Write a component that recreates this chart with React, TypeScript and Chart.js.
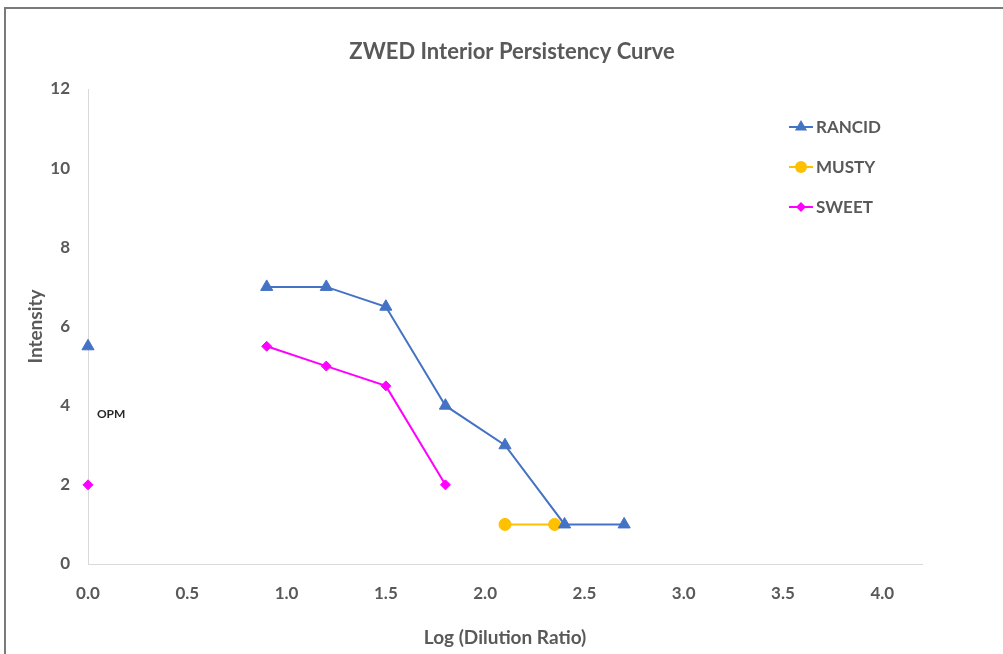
import React, { useEffect, useRef } from "react";
import { Chart, registerables } from "chart.js";

Chart.register(...registerables);

const TITLE = "ZWED Interior Persistency Curve";
const X_TITLE = "Log (Dilution Ratio)";
const Y_TITLE = "Intensity";
const NOTE_TEXT = "OPM";
const NOTE_POS = { x: 0.05, y: 3.78 };

const seriesNames = ["RANCID", "MUSTY", "SWEET"];
const seriesColors = ["#4472C4", "#FFC000", "#FF00FF"];
const seriesMarkers = ["triangle", "circle", "rectRot"];

// null y creates a gap between the isolated value at 0.0 and the curve
const rancidX = [0.0, 0.45, 0.9, 1.2, 1.5, 1.8, 2.1, 2.4, 2.7];
const rancidY = [5.5, null, 7, 7, 6.5, 4, 3, 1, 1];
const mustyX = [2.1, 2.35];
const mustyY = [1, 1];
const sweetX = [0.0, 0.45, 0.9, 1.2, 1.5, 1.8];
const sweetY = [2, null, 5.5, 5, 4.5, 2];

const xTicks = [0, 0.5, 1.0, 1.5, 2.0, 2.5, 3.0, 3.5, 4.0];
const yTicks = [0, 2, 4, 6, 8, 10, 12];

const FONT = "Lato, 'Open Sans', sans-serif";
const TEXT_COLOR = "#595959";

const toPoints = (xs: number[], ys: (number | null)[]) =>
  xs.map((x, i) => ({ x, y: ys[i] }));

function drawMarker(ctx: CanvasRenderingContext2D, style: string, x: number, y: number, r: number) {
  ctx.beginPath();
  if (style === "triangle") {
    ctx.moveTo(x, y - r);
    ctx.lineTo(x + r * 0.87, y + r * 0.5);
    ctx.lineTo(x - r * 0.87, y + r * 0.5);
    ctx.closePath();
  } else if (style === "circle") {
    ctx.arc(x, y, r, 0, Math.PI * 2);
  } else {
    ctx.moveTo(x, y - r);
    ctx.lineTo(x + r, y);
    ctx.lineTo(x, y + r);
    ctx.lineTo(x - r, y);
    ctx.closePath();
  }
  ctx.fill();
}

const decorPlugin = {
  id: "decor",
  afterDraw(chart: any) {
    const ctx = chart.ctx;
    ctx.save();
    // title
    ctx.fillStyle = TEXT_COLOR;
    ctx.font = `bold 22px ${FONT}`;
    ctx.textAlign = "center";
    ctx.textBaseline = "middle";
    ctx.fillText(TITLE, 512, 52);
    // legend
    chart.data.datasets.forEach((ds: any, i: number) => {
      const y = 127 + i * 40;
      const x0 = 789;
      const x1 = 813;
      ctx.strokeStyle = ds.borderColor;
      ctx.lineWidth = 2;
      ctx.beginPath();
      ctx.moveTo(x0, y);
      ctx.lineTo(x1, y);
      ctx.stroke();
      ctx.fillStyle = ds.borderColor;
      drawMarker(ctx, ds.pointStyle, (x0 + x1) / 2, y, ds.pointRadius);
      ctx.fillStyle = TEXT_COLOR;
      ctx.font = `bold 17px ${FONT}`;
      ctx.textBaseline = "middle";
      ctx.textAlign = "left";
      ctx.fillText(ds.label, 816, y + 1);
    });
    // note label
    const xs = chart.scales.x;
    const ys = chart.scales.y;
    ctx.fillStyle = "#262626";
    ctx.font = `bold 12px ${FONT}`;
    ctx.textBaseline = "middle";
    ctx.textAlign = "left";
    ctx.fillText(NOTE_TEXT, xs.getPixelForValue(NOTE_POS.x) - 1, ys.getPixelForValue(NOTE_POS.y));
    ctx.restore();
  },
};

export default function App() {
  const ref = useRef<HTMLCanvasElement>(null);

  useEffect(() => {
    const ys = [rancidY, mustyY, sweetY];
    const xsArr = [rancidX, mustyX, sweetX];
    const radii = [7, 6, 5];
    const chart = new Chart(ref.current!, {
      type: "line",
      data: {
        datasets: seriesNames.map((name, i) => ({
          label: name,
          data: toPoints(xsArr[i], ys[i]) as any,
          borderColor: seriesColors[i],
          backgroundColor: seriesColors[i],
          pointStyle: seriesMarkers[i] as any,
          pointRadius: radii[i],
          pointBorderWidth: 1,
          borderWidth: 2,
          spanGaps: false,
          tension: 0,
          clip: false as any,
        })),
      },
      options: {
        animation: false,
        responsive: false,
        layout: { padding: { left: 0, right: 81, top: 89, bottom: 0 } },
        plugins: {
          legend: { display: false },
          tooltip: { enabled: false },
          title: { display: false },
        },
        scales: {
          x: {
            type: "linear",
            min: 0,
            max: 4.2,
            grid: { display: false, drawTicks: false },
            border: { display: true, color: "#D9D9D9", width: 1 },
            afterBuildTicks: (s: any) => {
              s.ticks = xTicks.map((v) => ({ value: v }));
            },
            afterFit: (s: any) => {
              s.height = 90;
            },
            ticks: {
              color: TEXT_COLOR,
              font: { family: FONT, size: 17, weight: "bold" },
              padding: 19,
              maxRotation: 0,
              callback: (v: any) => Number(v).toFixed(1),
            },
            title: {
              display: true,
              text: X_TITLE,
              color: TEXT_COLOR,
              font: { family: FONT, size: 19, weight: "bold" },
              padding: { top: 0, bottom: 5 },
            },
          },
          y: {
            type: "linear",
            min: 0,
            max: 12,
            grid: { display: false, drawTicks: false },
            border: { display: true, color: "#D9D9D9", width: 1 },
            afterBuildTicks: (s: any) => {
              s.ticks = yTicks.map((v) => ({ value: v }));
            },
            afterFit: (s: any) => {
              s.width = 88;
            },
            ticks: {
              color: TEXT_COLOR,
              font: { family: FONT, size: 17, weight: "bold" },
              padding: 18,
            },
            title: {
              display: true,
              text: Y_TITLE,
              color: TEXT_COLOR,
              font: { family: FONT, size: 19, weight: "bold" },
              padding: { top: 24, bottom: 0 },
            },
          },
        },
      },
      plugins: [decorPlugin],
    });
    return () => chart.destroy();
  }, []);

  return (
    <div style={{ position: "fixed", left: 0, top: 0, width: 1003, height: 654, background: "#fff" }}>
      <div
        style={{
          position: "absolute",
          left: 4,
          top: 7,
          right: 0,
          bottom: 0,
          borderLeft: "2px solid #7a7a7a",
          borderTop: "2px solid #7a7a7a",
        }}
      />
      <canvas ref={ref} width={1003} height={654} style={{ position: "absolute", left: 0, top: 0 }} />
    </div>
  );
}
